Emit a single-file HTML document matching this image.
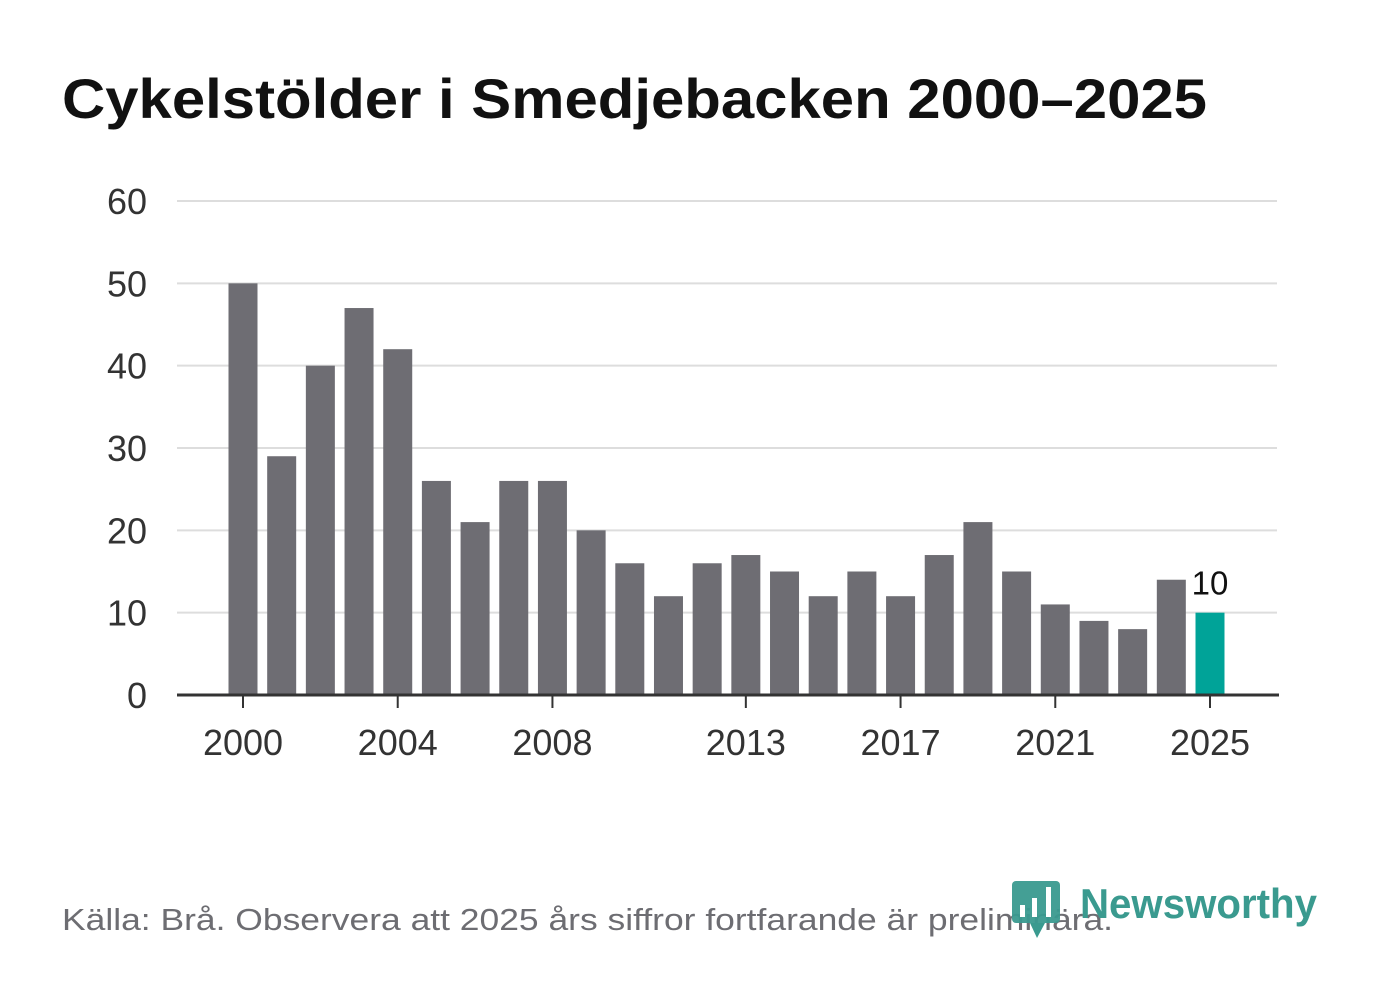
<!DOCTYPE html>
<html><head><meta charset="utf-8"><style>
body{margin:0;width:1382px;height:999px;background:#fff;overflow:hidden;font-family:"Liberation Sans",sans-serif}
</style></head><body>
<svg width="1382" height="999" xmlns="http://www.w3.org/2000/svg" id="chart">
<text x="62" y="118" font-size="56" font-weight="bold" fill="#111" textLength="1145" lengthAdjust="spacingAndGlyphs" font-family="Liberation Sans, sans-serif">Cykelstölder i Smedjebacken 2000–2025</text>
<g id="grid"></g><g id="bars"></g><g id="xaxis"></g>
<text x="62" y="930" font-size="31" fill="#6d6d72" textLength="1051" lengthAdjust="spacingAndGlyphs" font-family="Liberation Sans, sans-serif">Källa: Brå. Observera att 2025 års siffror fortfarande är preliminära.</text>
<g>
<rect x="1012" y="881" width="48" height="42" rx="4" fill="#3a9a8f" opacity="0.95"/>
<polygon points="1030,923 1045,923 1037,938" fill="#3a9a8f"/>
<rect x="1020" y="905" width="5" height="12" fill="#fff"/><rect x="1032" y="898" width="5" height="19" fill="#fff"/><rect x="1046" y="887" width="5" height="30" fill="#fff"/>
<text x="1080" y="918" font-size="42" font-weight="bold" fill="#3a9a8f" textLength="237" lengthAdjust="spacingAndGlyphs" font-family="Liberation Sans, sans-serif">Newsworthy</text>
</g>
</svg>
<script>
const years=[2000,2001,2002,2003,2004,2005,2006,2007,2008,2009,2010,2011,2012,2013,2014,2015,2016,2017,2018,2019,2020,2021,2022,2023,2024,2025];
const values=[50,29,40,47,42,26,21,26,26,20,16,12,16,17,15,12,15,12,17,21,15,11,9,8,14,10];
const yTicks=[0,10,20,30,40,50,60];
const xLabels=[2000,2004,2008,2013,2017,2021,2025];
const NS="http://www.w3.org/2000/svg";
const y=v=>695-v*(494/60);
const x=yr=>243+(yr-2000)*(967/25);
function mk(t,a,p){const e=document.createElementNS(NS,t);for(const k in a)e.setAttribute(k,a[k]);p.appendChild(e);return e;}
const g=document.getElementById('grid'),b=document.getElementById('bars'),xa=document.getElementById('xaxis');
yTicks.forEach(v=>{
 if(v>0){const l=mk('line',{x1:177,x2:1277,y1:y(v),y2:y(v),stroke:'#ddd','stroke-width':2},g);
 
 }
 const t=mk('text',{x:147,y:y(v)+13,'text-anchor':'end','font-size':36,fill:'#333'},g);t.textContent=v;
 
 
});
years.forEach((yr,i)=>{
 const r=mk('rect',{x:x(yr)-14.5,y:y(values[i]),width:29,height:695-y(values[i]),fill:i==years.length-1?'#00a398':'#6e6d73'},b);
 
 
});
const last=years.length-1;
const lt=mk('text',{x:x(years[last]),y:y(values[last])-18,'text-anchor':'middle','font-size':33,fill:'#111'},b);lt.textContent=values[last];


const ax=mk('line',{x1:177,x2:1279,y1:695,y2:695,stroke:'#333','stroke-width':3},xa);


xLabels.forEach(yr=>{
 mk('line',{x1:x(yr),x2:x(yr),y1:695,y2:708,stroke:'#333','stroke-width':2},xa);
 const t=mk('text',{x:x(yr),y:755,'text-anchor':'middle','font-size':36,fill:'#333'},xa);t.textContent=yr;
 
 
});
</script>
</body></html>
